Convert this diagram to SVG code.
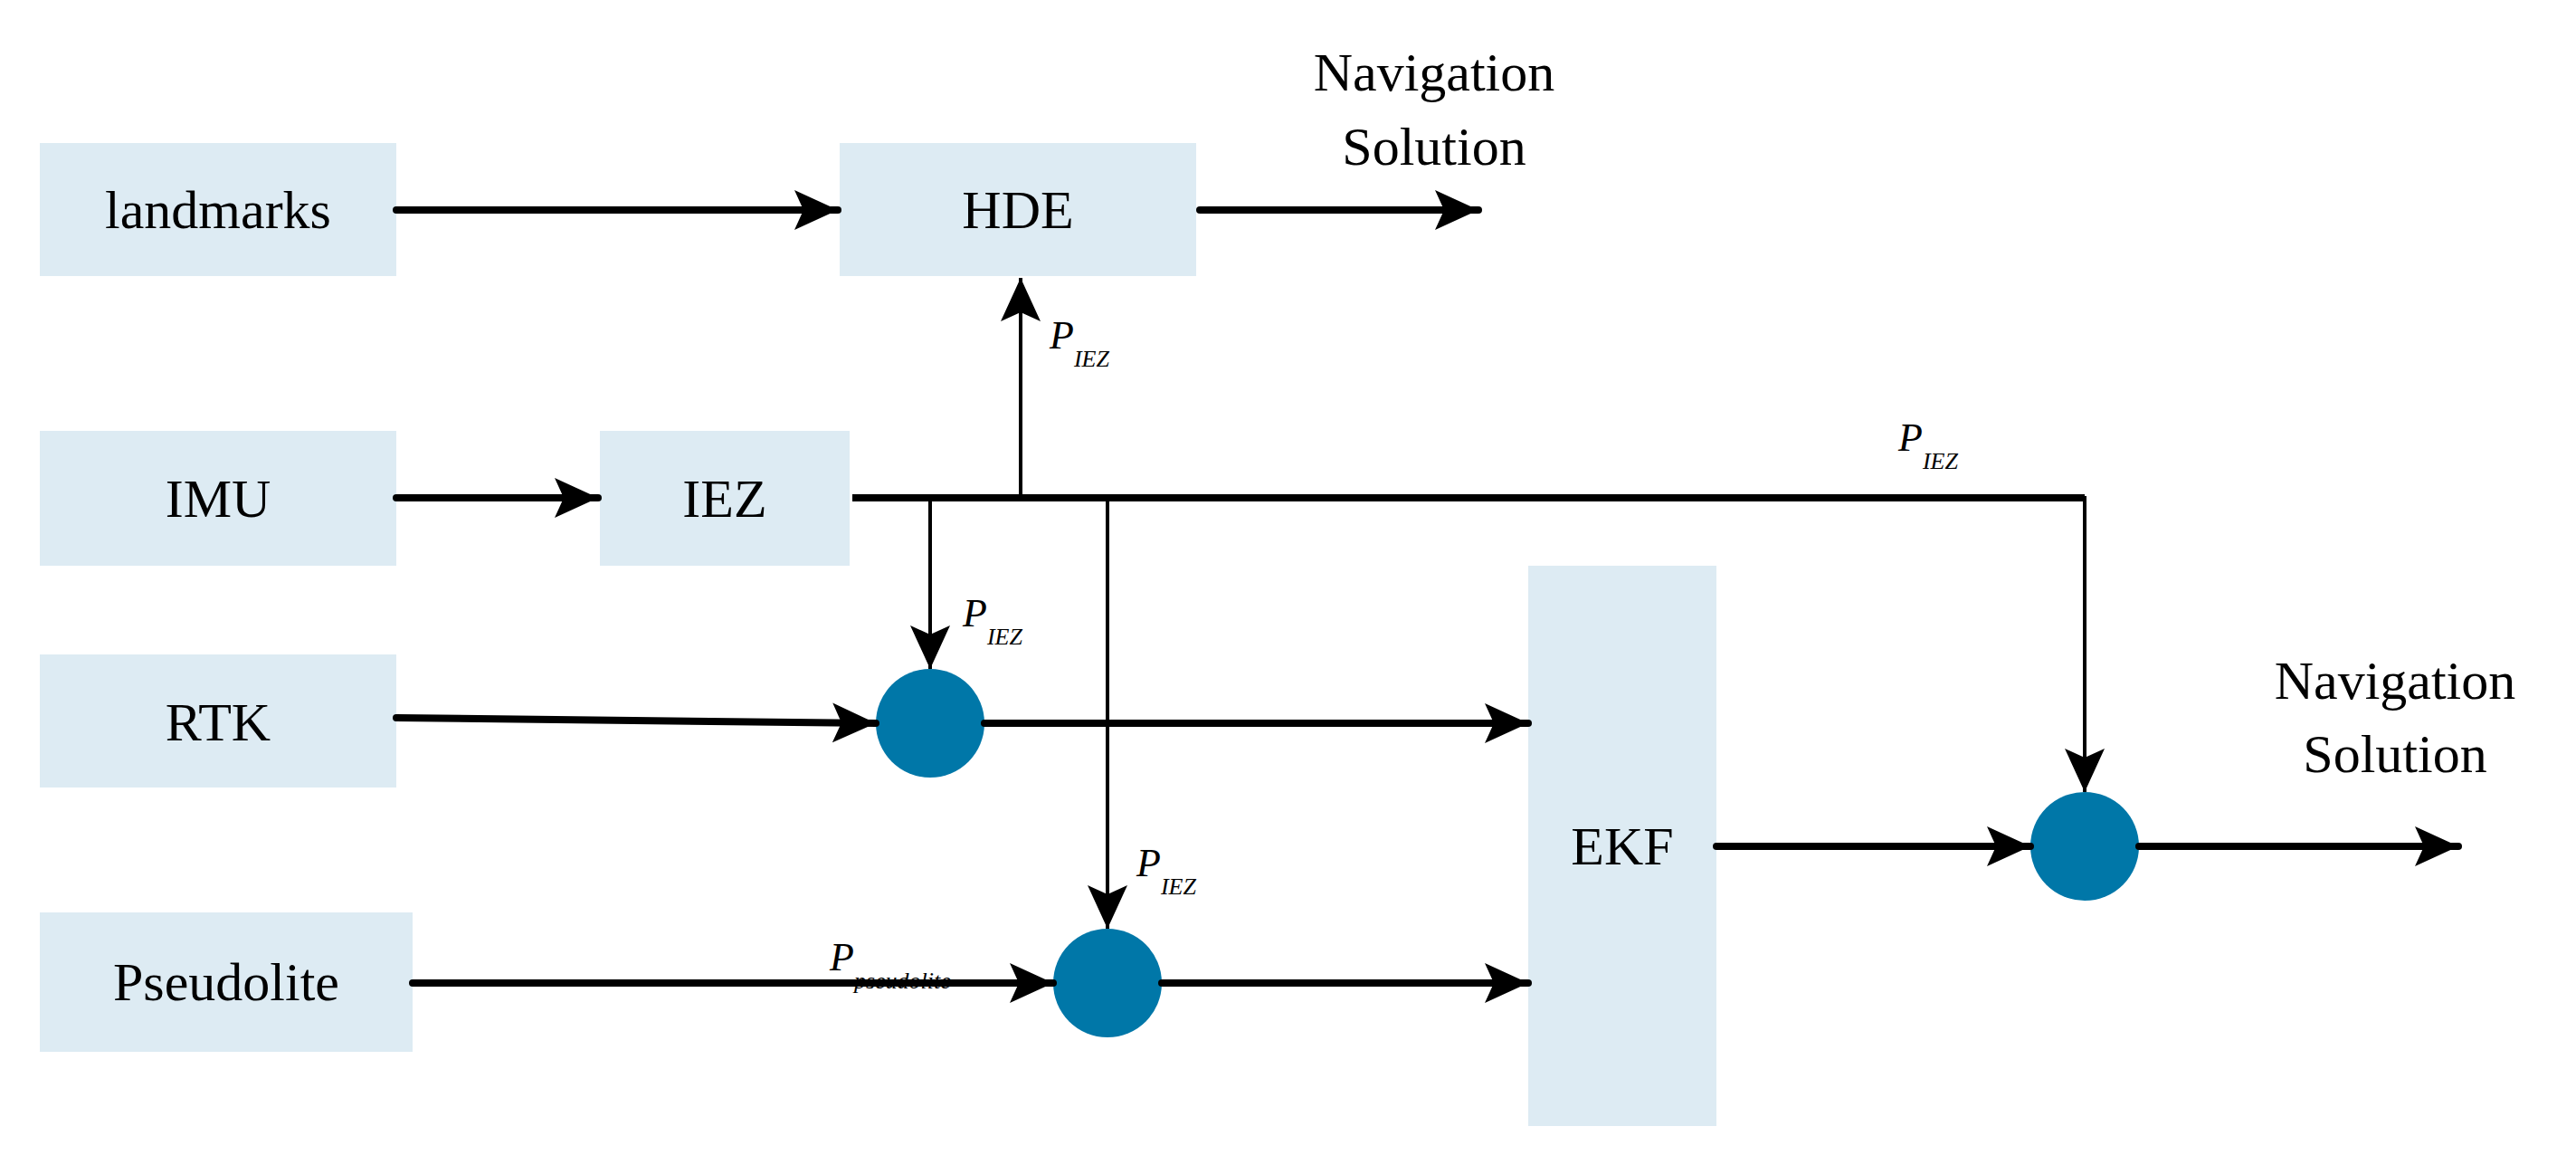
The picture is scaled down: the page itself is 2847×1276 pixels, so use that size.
<svg xmlns="http://www.w3.org/2000/svg" width="2847" height="1276" viewBox="0 0 2847 1276">
<style>
.box{fill:#ddebf3}
.t{font-family:"Liberation Serif",serif;font-size:60px;fill:#000;text-anchor:middle}
.p{font-family:"Liberation Serif",serif;font-style:italic;font-size:44px;fill:#000}
.s{font-size:26px}
.thick{stroke:#000;stroke-width:8;fill:none;stroke-linecap:round}
.thin{stroke:#000;stroke-width:4;fill:none}
.dot{fill:#0077a8}
</style>
<defs>
<marker id="ah" markerUnits="userSpaceOnUse" markerWidth="50" markerHeight="50" viewBox="0 0 50 50" refX="48" refY="25" orient="auto">
<path d="M0,3 L48,25 L0,47 L10,25 Z" fill="#000"/>
</marker>
</defs>
<rect width="2847" height="1276" fill="#fff"/>
<g id="landmarks"><rect class="box" x="44" y="158" width="394" height="147"/><text class="t" x="241" y="252">landmarks</text></g>
<g id="HDE"><rect class="box" x="928" y="158" width="394" height="147"/><text class="t" x="1125" y="252">HDE</text></g>
<g id="IMU"><rect class="box" x="44" y="476" width="394" height="149"/><text class="t" x="241" y="571">IMU</text></g>
<g id="IEZ"><rect class="box" x="663" y="476" width="276" height="149"/><text class="t" x="801" y="571">IEZ</text></g>
<g id="RTK"><rect class="box" x="44" y="723" width="394" height="147"/><text class="t" x="241" y="818">RTK</text></g>
<g id="Pseudolite"><rect class="box" x="44" y="1008" width="412" height="154"/><text class="t" x="250" y="1105">Pseudolite</text></g>
<g id="EKF"><rect class="box" x="1689" y="625" width="208" height="619"/><text class="t" x="1793" y="955">EKF</text></g>
<g id="sum1"><circle class="dot" cx="1028" cy="799" r="60"/></g>
<g id="sum2"><circle class="dot" cx="1224" cy="1086" r="60"/></g>
<g id="sum3"><circle class="dot" cx="2304" cy="935" r="60"/></g>
<g id="nav1"><text class="t" x="1585" y="100">Navigation</text><text class="t" x="1585" y="182">Solution</text></g>
<g id="nav2"><text class="t" x="2647" y="772">Navigation</text><text class="t" x="2647" y="853">Solution</text></g>
<g id="connectors">
<line class="thick" x1="438" y1="232" x2="926" y2="232" marker-end="url(#ah)"/>
<line class="thick" x1="1326" y1="232" x2="1634" y2="232" marker-end="url(#ah)"/>
<line class="thick" x1="438" y1="550" x2="661" y2="550" marker-end="url(#ah)"/>
<polyline class="thick" points="942,550 2304,550" style="stroke-linecap:butt"/>
<line class="thin" x1="2304" y1="548" x2="2304" y2="875" marker-end="url(#ah)"/>
<line class="thin" x1="1128" y1="550" x2="1128" y2="307" marker-end="url(#ah)"/>
<line class="thin" x1="1028" y1="550" x2="1028" y2="739" marker-end="url(#ah)"/>
<line class="thin" x1="1224" y1="550" x2="1224" y2="1026" marker-end="url(#ah)"/>
<line class="thick" x1="438" y1="793" x2="968" y2="799" marker-end="url(#ah)"/>
<line class="thick" x1="1088" y1="799" x2="1689" y2="799" marker-end="url(#ah)"/>
<line class="thick" x1="456" y1="1086" x2="1164" y2="1086" marker-end="url(#ah)"/>
<line class="thick" x1="1284" y1="1086" x2="1689" y2="1086" marker-end="url(#ah)"/>
<line class="thick" x1="1897" y1="935" x2="2244" y2="935" marker-end="url(#ah)"/>
<line class="thick" x1="2364" y1="935" x2="2717" y2="935" marker-end="url(#ah)"/>
</g>
<g id="labels">
<text class="p" x="1160" y="385">P<tspan class="s" dy="20">IEZ</tspan></text>
<text class="p" x="2098" y="498">P<tspan class="s" dy="20">IEZ</tspan></text>
<text class="p" x="1064" y="692">P<tspan class="s" dy="20">IEZ</tspan></text>
<text class="p" x="1256" y="968">P<tspan class="s" dy="20">IEZ</tspan></text>
<text class="p" x="917" y="1072">P<tspan class="s" dy="20">pseudolite</tspan></text>
</g>
</svg>
